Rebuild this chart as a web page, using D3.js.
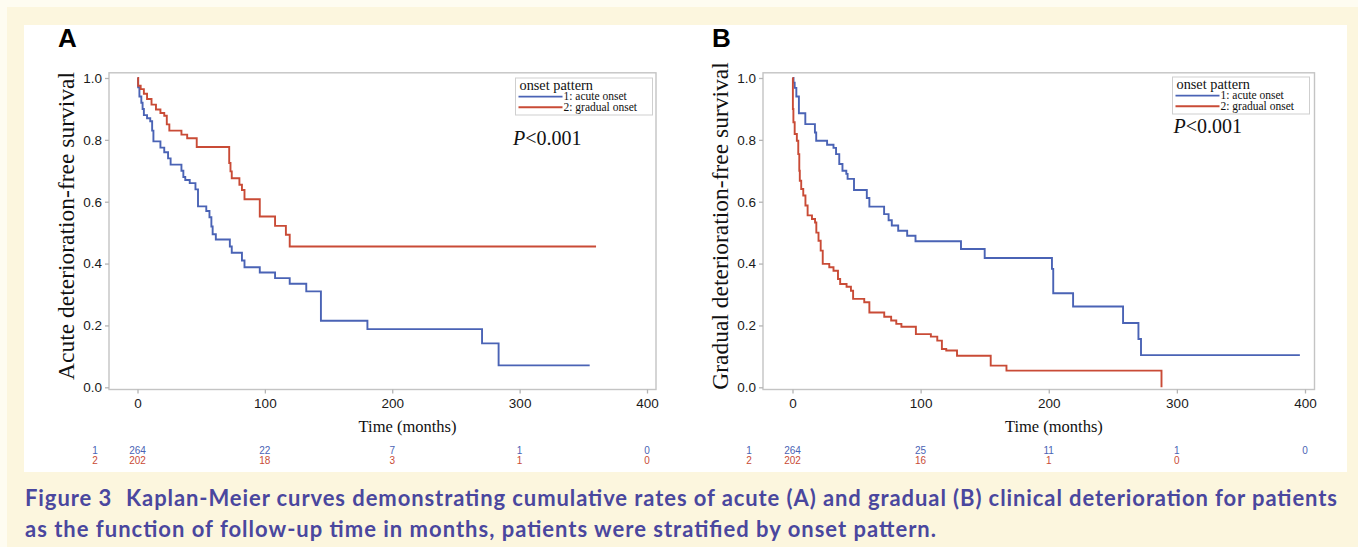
<!DOCTYPE html>
<html>
<head>
<meta charset="utf-8">
<script src="https://cdn.jsdelivr.net/npm/d3@7"></script>
<style>
  body { margin: 0; background: #fefcf1; }
  svg { display: block; }
</style>
</head>
<body>
<div id="fig"></div>
<script>

// Kaplan-Meier steps: [months, survival]
const acuteA = [[0,1],[0.5,0.97],[1.5,0.94],[3,0.92],[4,0.90],[5,0.88],[7.5,0.87],[10,0.86],[11.5,0.83],[12.5,0.795],
  [18,0.775],[21,0.76],[24,0.74],[26,0.72],[34.5,0.70],[36,0.68],[37.5,0.67],[41,0.66],[45.5,0.64],[47.5,0.585],
  [54,0.57],[56.5,0.55],[58,0.52],[59,0.495],[61.5,0.478],[72.5,0.455],[74,0.435],[82,0.41],[84,0.388],[96,0.371],
  [108,0.353],[119.5,0.335],[132.5,0.31],[144,0.215],[180.5,0.188],[270.5,0.142],[283.5,0.071],[355,0.071]]

const gradualA = [[0,1],[0.5,0.975],[2.5,0.964],[5,0.949],[7.5,0.932],[11,0.914],[14.5,0.898],[18,0.887],[21,0.878],
  [23,0.85],[25,0.83],[34.5,0.817],[39,0.805],[46.5,0.777],[72,0.725],[73,0.698],[74,0.676],[80,0.655],[82,0.638],
  [84,0.608],[96,0.552],[108,0.522],[116.5,0.493],[119.5,0.455],[360,0.455]]

const acuteB = [[0,1],[0.8,0.985],[1.7,0.968],[3,0.94],[5,0.886],[10,0.851],[17.5,0.824],[18.5,0.797],[27,0.784],
  [32,0.774],[34,0.754],[36.5,0.722],[39,0.70],[42,0.69],[43,0.674],[48,0.638],[58,0.612],[60,0.584],[71.5,0.56],
  [75,0.54],[77.5,0.523],[82.5,0.506],[89.5,0.49],[96,0.472],[131.5,0.447],[150,0.418],[202.5,0.383],[203.5,0.304],
  [219,0.261],[258,0.208],[270,0.156],[272,0.104],[396,0.104]]

const gradualB = [[0,1],[0.3,0.9],[0.7,0.857],[1.7,0.819],[3.4,0.797],[4.5,0.754],[5.3,0.70],[5.7,0.668],[6.8,0.641],
  [8.4,0.62],[10.1,0.588],[11.8,0.556],[15.2,0.544],[17.6,0.533],[18.6,0.50],[20.3,0.474],[22,0.442],[23.6,0.399],
  [28.7,0.388],[32,0.377],[35.5,0.35],[37.2,0.334],[42.2,0.325],[45.6,0.312],[47.3,0.286],[56,0.275],[60,0.242],
  [71.6,0.228],[77,0.216],[81,0.205],[85,0.196],[96.3,0.172],[108,0.164],[113,0.151],[116.6,0.124],[120,0.119],
  [128.4,0.102],[154.7,0.07],[167,0.054],[288,0]]

// numbers at risk
const riskTimes = [0, 100, 200, 300, 400]
const riskA1 = [264, 22, 7, 1, 0]
const riskA2 = [202, 18, 3, 1, 0]
const riskB1 = [264, 25, 11, 1, 0]
const riskB2 = [202, 16, 1, 0]

const xTicks = [0, 100, 200, 300, 400]
const yTicks = [0, 0.2, 0.4, 0.6, 0.8, 1.0]
const groupLabels = ["1: acute onset", "2: gradual onset"]

const blue = "#4a63b5"
const red = "#c94b36"
const serif = "'Liberation Serif', 'Times New Roman', serif"
const sans = "'Liberation Sans Narrow', 'Liberation Sans', Arial, sans-serif"

const W = 1358, H = 547

const svg = d3.select("#fig").append("svg")
  .attr("width", W)
  .attr("height", H)

// page background
svg.append("rect").attr("x", 7).attr("y", 7).attr("width", W - 7).attr("height", H - 7).attr("fill", "#fcf6de")
svg.append("rect").attr("x", 24).attr("y", 25).attr("width", 1323).attr("height", 447).attr("fill", "#ffffff")

const panels = [
  { letter: "A", ytitle: "Acute deterioration-free survival", curves: [acuteA, gradualA], risk: [riskA1, riskA2],
    left: 109, right: 656, x0: 137.5, x400: 647, titleAt: 212, legendX: 515.5, legendY: 78, pX: 513, pY: 145 },
  { letter: "B", ytitle: "Gradual deterioration-free survival", curves: [acuteB, gradualB], risk: [riskB1, riskB2],
    left: 763, right: 1314.5, x0: 792.5, x400: 1305, titleAt: 204, legendX: 1172.5, legendY: 77, pX: 1173.5, pY: 133 }
]

const frameTop = 72.8, frameBottom = 389.5

panels.forEach(p => {
  const x = d3.scaleLinear().domain([0, 400]).range([p.x0, p.x400])
  const y = d3.scaleLinear().domain([0, 1]).range([387.3, 78])
  const g = svg.append("g")

  g.append("text")
    .attr("x", p.left - 51).attr("y", 47)
    .attr("font-family", "'Liberation Sans', Arial, sans-serif")
    .attr("font-weight", "bold")
    .attr("font-size", 26)
    .text(p.letter)

  // frame
  g.append("rect")
    .attr("x", p.left).attr("y", frameTop)
    .attr("width", p.right - p.left).attr("height", frameBottom - frameTop)
    .attr("fill", "none")
    .attr("stroke", "#c4c4c4")
    .attr("stroke-width", 1.4)

  const yAxis = g.append("g")
    .attr("transform", `translate(${p.left},0)`)
    .call(d3.axisLeft(y).tickValues(yTicks).tickFormat(d3.format(".1f")).tickSize(4).tickPadding(3))
  const xAxis = g.append("g")
    .attr("transform", `translate(0,${frameBottom})`)
    .call(d3.axisBottom(x).tickValues(xTicks).tickSize(4).tickPadding(5))

  ;[yAxis, xAxis].forEach(a => {
    a.select(".domain").remove()
    a.selectAll("line").attr("stroke", "#b4b4b4").attr("stroke-width", 1.3)
    a.selectAll("text")
      .attr("font-family", sans)
      .attr("font-size", 13.5)
      .attr("fill", "#1a1a1a")
  })

  g.append("text")
    .attr("x", x(p.titleAt)).attr("y", 432)
    .attr("text-anchor", "middle")
    .attr("font-family", serif)
    .attr("font-size", 16.5)
    .attr("fill", "#111")
    .text("Time (months)")

  g.append("text")
    .attr("transform", `translate(${p.left - 35},226) rotate(-90)`)
    .attr("text-anchor", "middle")
    .attr("font-family", serif)
    .attr("font-size", 23.5)
    .attr("fill", "#111")
    .text(p.ytitle)

  // survival curves
  const line = d3.line()
    .x(d => x(d[0]))
    .y(d => y(d[1]))
    .curve(d3.curveStepAfter)

  g.selectAll(".km")
    .data(p.curves)
    .join("path")
    .attr("class", "km")
    .attr("d", line)
    .attr("fill", "none")
    .attr("stroke", (d, i) => i == 0 ? blue : red)
    .attr("stroke-width", 1.9)

  // legend
  const lg = g.append("g").attr("transform", `translate(${p.legendX},${p.legendY})`)
  lg.append("rect")
    .attr("width", 137).attr("height", 37)
    .attr("fill", "#fff")
    .attr("stroke", "#cfcfcf")
    .attr("stroke-width", 1)
  lg.append("text")
    .attr("x", 4).attr("y", 11.5)
    .attr("font-family", serif)
    .attr("font-size", 14.3)
    .attr("fill", "#111")
    .text("onset pattern")
  groupLabels.forEach((lab, i) => {
    lg.append("line")
      .attr("x1", 3).attr("x2", 47)
      .attr("y1", 18.6 + i * 10.6).attr("y2", 18.6 + i * 10.6)
      .attr("stroke", i == 0 ? blue : red)
      .attr("stroke-width", 1.9)
    lg.append("text")
      .attr("x", 48).attr("y", 22.2 + i * 10.6)
      .attr("font-family", serif)
      .attr("font-size", 11.5)
      .attr("fill", "#111")
      .text(lab)
  })

  const pt = g.append("text")
    .attr("x", p.pX).attr("y", p.pY)
    .attr("font-family", serif)
    .attr("font-size", 20)
    .attr("fill", "#111")
  pt.append("tspan").attr("font-style", "italic").text("P")
  pt.append("tspan").text("<0.001")

  // numbers at risk table
  p.risk.forEach((row, i) => {
    const col = i == 0 ? blue : red
    g.append("text")
      .attr("x", p.left - 14).attr("y", 453.5 + i * 10.8)
      .attr("text-anchor", "middle")
      .attr("font-family", sans)
      .attr("font-size", 10)
      .attr("fill", col)
      .text(i + 1)
    g.selectAll(null)
      .data(row)
      .join("text")
      .attr("x", (d, j) => x(riskTimes[j]))
      .attr("y", 453.5 + i * 10.8)
      .attr("text-anchor", "middle")
      .attr("font-family", sans)
      .attr("font-size", 10)
      .attr("fill", col)
      .text(d => d)
  })
})

// caption
const capLines = [
  ["Figure 3", "Kaplan-Meier curves demonstrating cumulative rates of acute (A) and gradual (B) clinical deterioration for patients", 1312],
  ["", "as the function of follow-up time in months, patients were stratified by onset pattern.", 911]
]
capLines.forEach((c, i) => {
  const t = svg.append("text")
    .attr("x", 25).attr("y", 506 + i * 30.5)
    .attr("font-family", "Lato, 'Open Sans', sans-serif")
    .attr("font-weight", "bold")
    .attr("font-size", 22)
    .attr("fill", "#4a479e")
    .attr("textLength", c[2])
    .attr("lengthAdjust", "spacing")
  if (c[0]) {
    t.append("tspan").text(c[0])
    t.append("tspan").attr("dx", 14).text(c[1])
  } else {
    t.text(c[1])
  }
})

</script>
</body>
</html>
